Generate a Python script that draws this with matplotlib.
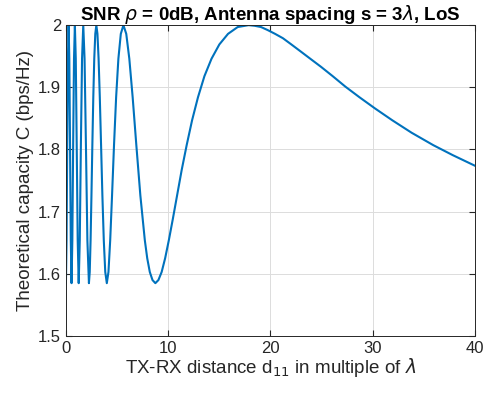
import matplotlib
matplotlib.use("Agg")
import matplotlib.pyplot as plt

# capacity vs distance
distance = [0.000, 0.063, 0.128, 0.194, 0.261, 0.331, 0.402, 0.475, 0.550,
            0.627, 0.707, 0.790, 0.875, 0.963, 1.055, 1.151, 1.250,
            1.354, 1.463, 1.577, 1.696, 1.823, 1.957, 2.099, 2.250,
            2.329, 2.412, 2.497, 2.585, 2.677, 2.772, 2.872, 2.975,
            3.083, 3.196, 3.314, 3.438, 3.567, 3.704, 3.848, 4.000,
            4.161, 4.331, 4.512, 4.705, 4.911, 5.132, 5.369, 5.625,
            5.902, 6.202, 6.529, 6.888, 7.282, 7.719, 7.955, 8.205,
            8.470, 8.750, 9.048, 9.366, 9.705, 10.067, 10.456, 10.874,
            11.325, 11.813, 12.342, 12.919, 13.550, 14.244, 15.010, 15.859,
            16.808, 17.875, 18.460, 19.083, 19.749, 20.462, 21.228, 22.052,
            22.942, 23.906, 24.954, 26.096, 27.347, 28.722, 30.242, 31.930,
            33.816, 35.938, 37.835, 40.000]
capacity = [1.585, 1.654, 1.807, 1.946, 2.000, 1.946, 1.807, 1.654, 1.585,
            1.654, 1.807, 1.946, 2.000, 1.946, 1.807, 1.654, 1.585,
            1.654, 1.807, 1.946, 2.000, 1.946, 1.807, 1.654, 1.585,
            1.603, 1.654, 1.726, 1.807, 1.884, 1.946, 1.986, 2.000,
            1.986, 1.946, 1.884, 1.807, 1.726, 1.654, 1.603, 1.585,
            1.603, 1.654, 1.726, 1.807, 1.884, 1.946, 1.986, 2.000,
            1.986, 1.946, 1.884, 1.807, 1.726, 1.654, 1.625, 1.603,
            1.590, 1.585, 1.590, 1.603, 1.625, 1.654, 1.688, 1.726,
            1.767, 1.807, 1.847, 1.884, 1.918, 1.946, 1.969, 1.986,
            1.997, 2.000, 1.999, 1.997, 1.992, 1.986, 1.979, 1.969,
            1.958, 1.946, 1.933, 1.918, 1.901, 1.884, 1.866, 1.847,
            1.827, 1.807, 1.791, 1.774]

xticks = [0, 10, 20, 30, 40]
yticks = [1.5, 1.6, 1.7, 1.8, 1.9, 2.0]

plt.rcParams['font.family'] = ['Liberation Sans', 'DejaVu Sans']

fig = plt.figure(figsize=(4.92, 3.93), dpi=100)
ax = fig.add_axes([0.134, 0.145, 0.831, 0.791])

ax.plot(distance, capacity, color="#0072BD", linewidth=1.5)

ax.set_xlim(0, 40)
ax.set_ylim(1.5, 2.0)
ax.set_xticks(xticks)
ax.set_yticks(yticks)
ax.set_yticklabels(["1.5", "1.6", "1.7", "1.8", "1.9", "2"])
ax.grid(True, color="#dcdcdc", linewidth=0.7)
ax.tick_params(direction="in", top=True, right=True, labelsize=12,
               length=4, color="#262626", labelcolor="#262626")
for sp in ax.spines.values():
    sp.set_color("#262626")
    sp.set_linewidth(0.7)

ax.set_xlabel(r"TX-RX distance d$_{11}$ in multiple of $\lambda$", fontsize=13.5, color="#262626", labelpad=0)
ax.set_ylabel("Theoretical capacity C (bps/Hz)", fontsize=13.5, color="#262626", labelpad=3)
ax.set_title(r"SNR $\rho$ = 0dB, Antenna spacing s = 3$\lambda$, LoS",
             fontsize=13.5, fontweight="bold", pad=4)

fig.savefig("out.png", dpi=100)
